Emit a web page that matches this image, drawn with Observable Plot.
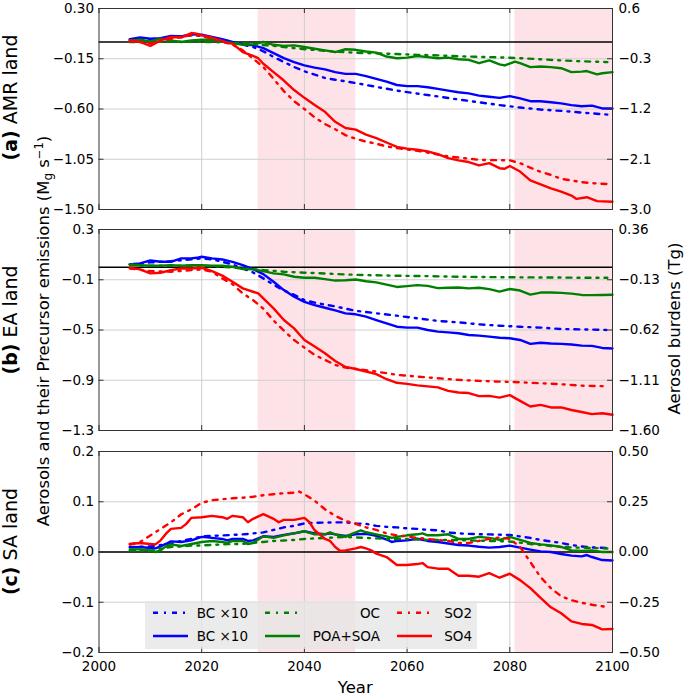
<!DOCTYPE html>
<html><head><meta charset="utf-8">
<script src="https://cdn.jsdelivr.net/npm/d3@7"></script>
<script src="https://cdn.jsdelivr.net/npm/@observablehq/plot@0.6"></script>
<style>
body{margin:0;background:#fff;}
#wrap{position:relative;width:685px;height:696px;font-family:"DejaVu Sans",sans-serif;overflow:hidden;}
#overlay{position:absolute;left:0;top:0;pointer-events:none;}
</style></head><body><div id="wrap"></div>
<script>
// ---------------- DATA ----------------
// Emissions (dash-dot) in left-axis units (Mg s^-1); burdens (solid) in right-axis units (Tg)
const xTickYears = [2000, 2020, 2040, 2060, 2080, 2100];
const shadedPeriods = [[2031, 2050], [2081, 2100]];
const legendLabels = ["BC \u00d710", "BC \u00d710", "OC", "POA+SOA", "SO2", "SO4"];

// (a) AMR land
const aLeftTicks = [0.30, -0.15, -0.60, -1.05, -1.50];
const aRightTicks = [0.6, -0.3, -1.2, -2.1, -3.0];
const aBCem = [[2006,0.021],[2010,0.024],[2014,0.042],[2018,0.060],[2020,0.054],[2024,0.021],[2028,-0.024],[2030,-0.045],[2032,-0.083],[2034,-0.134],[2036,-0.179],[2038,-0.224],[2040,-0.262],[2042,-0.292],[2044,-0.322],[2046,-0.338],[2048,-0.352],[2050,-0.368],[2054,-0.402],[2058,-0.435],[2062,-0.462],[2066,-0.488],[2070,-0.515],[2074,-0.540],[2078,-0.565],[2082,-0.587],[2086,-0.605],[2090,-0.617],[2094,-0.632],[2099,-0.650]];
const aBCbd = [[2006,0.05],[2008,0.08],[2010,0.06],[2012,0.07],[2014,0.11],[2016,0.10],[2018,0.14],[2020,0.13],[2022,0.09],[2024,0.05],[2026,0.00],[2028,-0.04],[2030,-0.06],[2032,-0.11],[2034,-0.20],[2036,-0.29],[2038,-0.36],[2040,-0.42],[2042,-0.46],[2044,-0.49],[2046,-0.54],[2048,-0.57],[2050,-0.57],[2052,-0.61],[2054,-0.66],[2056,-0.71],[2058,-0.77],[2060,-0.79],[2062,-0.79],[2064,-0.81],[2066,-0.84],[2068,-0.87],[2070,-0.90],[2072,-0.92],[2074,-0.96],[2076,-0.98],[2078,-1.00],[2080,-0.97],[2082,-1.01],[2084,-1.06],[2086,-1.06],[2088,-1.08],[2090,-1.10],[2092,-1.13],[2094,-1.15],[2096,-1.14],[2098,-1.19],[2100,-1.19]];
const aOCem = [[2006,0.000],[2010,0.000],[2014,0.004],[2018,0.002],[2022,0.000],[2026,-0.006],[2030,-0.020],[2034,-0.035],[2038,-0.055],[2042,-0.072],[2046,-0.086],[2050,-0.096],[2054,-0.102],[2058,-0.108],[2062,-0.115],[2066,-0.120],[2070,-0.128],[2074,-0.133],[2078,-0.138],[2082,-0.145],[2086,-0.155],[2090,-0.165],[2094,-0.173],[2099,-0.180]];
const aPOAbd = [[2006,0.03],[2008,0.04],[2010,0.01],[2012,0.06],[2014,0.03],[2016,0.00],[2018,0.03],[2020,0.04],[2022,0.04],[2024,0.01],[2026,-0.02],[2028,-0.05],[2030,-0.04],[2032,0.00],[2034,-0.05],[2036,-0.07],[2038,-0.06],[2040,-0.09],[2042,-0.12],[2044,-0.15],[2046,-0.18],[2048,-0.13],[2050,-0.14],[2052,-0.17],[2054,-0.19],[2056,-0.26],[2058,-0.29],[2060,-0.28],[2062,-0.25],[2064,-0.27],[2066,-0.29],[2068,-0.28],[2070,-0.31],[2072,-0.32],[2074,-0.38],[2076,-0.33],[2078,-0.40],[2079,-0.42],[2081,-0.35],[2082,-0.38],[2084,-0.45],[2086,-0.44],[2088,-0.45],[2090,-0.47],[2092,-0.54],[2094,-0.53],[2095,-0.52],[2097,-0.58],[2098,-0.56],[2100,-0.54]];
const aSO2em = [[2006,0.006],[2008,0.000],[2010,-0.012],[2012,0.010],[2014,0.030],[2016,0.045],[2018,0.060],[2020,0.054],[2022,0.030],[2024,0.006],[2026,-0.024],[2028,-0.075],[2030,-0.149],[2032,-0.224],[2034,-0.330],[2036,-0.440],[2038,-0.530],[2040,-0.600],[2042,-0.675],[2044,-0.735],[2046,-0.781],[2048,-0.834],[2050,-0.867],[2052,-0.892],[2054,-0.911],[2056,-0.935],[2058,-0.950],[2060,-0.962],[2062,-0.975],[2064,-0.990],[2066,-1.008],[2068,-1.025],[2070,-1.035],[2072,-1.045],[2074,-1.055],[2076,-1.058],[2078,-1.058],[2080,-1.060],[2082,-1.085],[2084,-1.126],[2086,-1.162],[2088,-1.190],[2090,-1.225],[2092,-1.240],[2094,-1.255],[2096,-1.264],[2099,-1.272]];
const aSO4bd = [[2006,0.03],[2008,0.00],[2010,-0.07],[2012,0.03],[2014,0.09],[2016,0.08],[2018,0.16],[2019,0.15],[2020,0.12],[2022,0.08],[2024,0.02],[2025,-0.02],[2026,-0.03],[2028,-0.18],[2030,-0.25],[2031,-0.29],[2032,-0.39],[2034,-0.54],[2036,-0.69],[2038,-0.86],[2040,-1.00],[2042,-1.13],[2044,-1.25],[2046,-1.43],[2048,-1.54],[2050,-1.57],[2052,-1.66],[2054,-1.72],[2056,-1.80],[2058,-1.88],[2060,-1.91],[2062,-1.93],[2064,-1.96],[2066,-2.01],[2068,-2.08],[2070,-2.12],[2072,-2.15],[2074,-2.21],[2076,-2.17],[2078,-2.26],[2079,-2.27],[2080,-2.22],[2082,-2.32],[2084,-2.48],[2086,-2.55],[2088,-2.62],[2090,-2.68],[2092,-2.75],[2093,-2.81],[2095,-2.78],[2097,-2.85],[2100,-2.86]];

// (b) EA land
const bLeftTicks = [0.3, -0.1, -0.5, -0.9, -1.3];
const bRightTicks = [0.36, -0.13, -0.62, -1.11, -1.60];
const bBCem = [[2006,0.022],[2010,0.038],[2014,0.048],[2018,0.062],[2020,0.070],[2022,0.062],[2024,0.043],[2026,0.022],[2028,-0.010],[2030,-0.042],[2032,-0.089],[2034,-0.140],[2036,-0.185],[2038,-0.220],[2040,-0.262],[2042,-0.282],[2044,-0.298],[2046,-0.312],[2048,-0.330],[2050,-0.347],[2054,-0.367],[2058,-0.386],[2062,-0.407],[2066,-0.428],[2070,-0.439],[2074,-0.455],[2078,-0.466],[2082,-0.474],[2086,-0.481],[2090,-0.492],[2094,-0.495],[2099,-0.500]];
const bBCbd = [[2006,0.019],[2008,0.029],[2010,0.058],[2012,0.045],[2014,0.045],[2016,0.078],[2018,0.078],[2019,0.084],[2020,0.094],[2022,0.078],[2024,0.068],[2026,0.045],[2028,0.013],[2030,-0.026],[2032,-0.075],[2034,-0.149],[2036,-0.231],[2038,-0.296],[2040,-0.345],[2042,-0.377],[2044,-0.403],[2046,-0.428],[2048,-0.458],[2050,-0.467],[2052,-0.490],[2054,-0.523],[2056,-0.555],[2058,-0.588],[2060,-0.597],[2062,-0.597],[2064,-0.620],[2066,-0.636],[2068,-0.643],[2070,-0.652],[2072,-0.669],[2074,-0.675],[2076,-0.685],[2078,-0.695],[2080,-0.701],[2082,-0.717],[2084,-0.755],[2086,-0.745],[2088,-0.752],[2090,-0.755],[2092,-0.762],[2094,-0.772],[2096,-0.775],[2098,-0.795],[2100,-0.800]];
const bOCem = [[2006,0.017],[2010,0.011],[2014,0.011],[2020,0.011],[2024,0.003],[2028,-0.010],[2032,-0.023],[2036,-0.036],[2040,-0.044],[2044,-0.050],[2048,-0.058],[2052,-0.063],[2058,-0.068],[2064,-0.071],[2070,-0.076],[2076,-0.079],[2082,-0.081],[2088,-0.082],[2094,-0.084],[2099,-0.084]];
const bPOAbd = [[2006,0.019],[2008,0.013],[2010,0.006],[2012,0.006],[2014,0.013],[2016,0.006],[2018,0.013],[2020,0.013],[2022,0.006],[2024,0.006],[2026,-0.003],[2028,-0.026],[2030,-0.029],[2032,-0.046],[2034,-0.068],[2036,-0.078],[2038,-0.101],[2040,-0.111],[2042,-0.111],[2044,-0.124],[2046,-0.138],[2048,-0.135],[2050,-0.128],[2052,-0.145],[2054,-0.156],[2056,-0.178],[2058,-0.200],[2060,-0.192],[2062,-0.182],[2064,-0.190],[2066,-0.212],[2068,-0.208],[2070,-0.205],[2072,-0.214],[2074,-0.208],[2076,-0.221],[2078,-0.245],[2080,-0.220],[2082,-0.235],[2084,-0.275],[2086,-0.255],[2088,-0.255],[2090,-0.258],[2092,-0.265],[2094,-0.278],[2096,-0.280],[2098,-0.278],[2100,-0.276]];
const bSO2em = [[2006,-0.010],[2010,-0.031],[2014,-0.036],[2018,-0.023],[2020,-0.018],[2022,-0.036],[2024,-0.089],[2026,-0.135],[2028,-0.209],[2030,-0.262],[2032,-0.330],[2034,-0.425],[2036,-0.505],[2038,-0.580],[2040,-0.640],[2042,-0.699],[2044,-0.738],[2046,-0.778],[2048,-0.799],[2050,-0.810],[2054,-0.831],[2058,-0.857],[2062,-0.871],[2066,-0.884],[2070,-0.897],[2074,-0.905],[2078,-0.911],[2082,-0.916],[2086,-0.924],[2090,-0.932],[2094,-0.943],[2099,-0.948]];
const bSO4bd = [[2006,-0.013],[2008,-0.029],[2010,-0.068],[2012,-0.062],[2014,-0.036],[2016,-0.020],[2018,-0.020],[2020,-0.013],[2022,-0.046],[2024,-0.090],[2026,-0.150],[2028,-0.214],[2030,-0.247],[2031,-0.263],[2032,-0.312],[2034,-0.409],[2036,-0.523],[2038,-0.604],[2039,-0.662],[2040,-0.717],[2042,-0.782],[2044,-0.847],[2046,-0.922],[2048,-0.980],[2050,-1.000],[2052,-1.025],[2054,-1.050],[2056,-1.100],[2058,-1.135],[2060,-1.145],[2062,-1.160],[2064,-1.170],[2066,-1.180],[2068,-1.214],[2070,-1.230],[2072,-1.235],[2074,-1.265],[2076,-1.262],[2078,-1.279],[2080,-1.255],[2082,-1.311],[2084,-1.366],[2086,-1.350],[2088,-1.375],[2090,-1.375],[2092,-1.400],[2094,-1.420],[2096,-1.440],[2098,-1.432],[2100,-1.447]];

// (c) SA land
const cLeftTicks = [0.2, 0.1, 0.0, -0.1, -0.2];
const cRightTicks = [0.50, 0.25, 0.00, -0.25, -0.50];
const cBCem = [[2006,0.010],[2010,0.011],[2012,0.014],[2014,0.016],[2016,0.022],[2018,0.026],[2020,0.031],[2022,0.032],[2024,0.033],[2026,0.034],[2028,0.035],[2030,0.037],[2032,0.039],[2034,0.044],[2036,0.049],[2038,0.052],[2040,0.057],[2042,0.058],[2046,0.059],[2048,0.059],[2050,0.057],[2052,0.056],[2054,0.052],[2056,0.050],[2058,0.049],[2060,0.047],[2062,0.046],[2064,0.044],[2066,0.043],[2068,0.039],[2070,0.037],[2072,0.036],[2076,0.035],[2080,0.034],[2082,0.031],[2084,0.028],[2086,0.024],[2088,0.021],[2090,0.018],[2092,0.014],[2094,0.011],[2096,0.009],[2099,0.008]];
const cBCbd = [[2006,0.023],[2008,0.025],[2010,0.020],[2011,0.018],[2012,0.028],[2013,0.040],[2014,0.053],[2016,0.050],[2018,0.058],[2020,0.075],[2022,0.070],[2024,0.065],[2025,0.058],[2026,0.065],[2028,0.065],[2029,0.055],[2030,0.058],[2032,0.078],[2034,0.075],[2036,0.085],[2038,0.093],[2040,0.103],[2042,0.093],[2044,0.088],[2045,0.093],[2046,0.088],[2048,0.080],[2050,0.088],[2052,0.090],[2054,0.080],[2056,0.062],[2057,0.050],[2058,0.055],[2060,0.058],[2062,0.066],[2064,0.055],[2066,0.050],[2068,0.042],[2070,0.035],[2072,0.032],[2074,0.026],[2076,0.022],[2078,0.025],[2080,0.032],[2082,0.022],[2084,0.012],[2086,0.003],[2088,0.000],[2090,-0.010],[2092,-0.018],[2094,-0.022],[2095,-0.015],[2096,-0.025],[2098,-0.040],[2100,-0.042]];
const cOCem = [[2006,0.003],[2010,0.002],[2012,0.007],[2014,0.010],[2016,0.011],[2018,0.013],[2020,0.013],[2022,0.014],[2024,0.015],[2026,0.016],[2028,0.016],[2030,0.018],[2032,0.020],[2034,0.022],[2036,0.023],[2038,0.024],[2040,0.026],[2044,0.028],[2048,0.030],[2052,0.028],[2056,0.026],[2060,0.026],[2064,0.024],[2068,0.024],[2072,0.023],[2076,0.022],[2080,0.021],[2084,0.016],[2088,0.012],[2092,0.009],[2096,0.008],[2099,0.007]];
const cPOAbd = [[2006,0.013],[2008,0.013],[2010,0.008],[2011,0.000],[2012,0.008],[2013,0.028],[2014,0.038],[2016,0.030],[2018,0.040],[2020,0.050],[2022,0.055],[2024,0.050],[2025,0.045],[2026,0.055],[2028,0.055],[2029,0.040],[2030,0.045],[2032,0.078],[2034,0.070],[2036,0.083],[2038,0.093],[2040,0.103],[2042,0.088],[2044,0.088],[2045,0.098],[2046,0.088],[2048,0.075],[2049,0.088],[2050,0.098],[2051,0.108],[2052,0.098],[2054,0.088],[2056,0.078],[2057,0.070],[2058,0.075],[2060,0.083],[2062,0.088],[2063,0.093],[2064,0.083],[2066,0.083],[2068,0.088],[2070,0.065],[2072,0.065],[2074,0.075],[2076,0.070],[2078,0.060],[2080,0.075],[2082,0.060],[2084,0.045],[2086,0.038],[2088,0.033],[2090,0.025],[2092,0.008],[2094,0.005],[2096,0.008],[2098,0.000],[2100,0.000]];
const cSO2em = [[2006,0.015],[2008,0.020],[2010,0.033],[2012,0.046],[2014,0.059],[2016,0.075],[2018,0.085],[2020,0.098],[2022,0.103],[2024,0.105],[2026,0.107],[2028,0.108],[2030,0.110],[2032,0.113],[2034,0.115],[2036,0.117],[2038,0.118],[2039,0.120],[2040,0.115],[2042,0.102],[2044,0.085],[2046,0.072],[2048,0.062],[2050,0.056],[2052,0.049],[2054,0.044],[2056,0.037],[2058,0.033],[2060,0.031],[2062,0.028],[2064,0.026],[2066,0.024],[2068,0.022],[2070,0.018],[2072,0.018],[2074,0.022],[2076,0.026],[2078,0.029],[2080,0.026],[2082,0.010],[2083,-0.005],[2084,-0.020],[2086,-0.050],[2088,-0.072],[2090,-0.088],[2092,-0.096],[2094,-0.101],[2096,-0.105],[2098,-0.108],[2099,-0.110]];
const cSO4bd = [[2006,0.040],[2008,0.045],[2010,0.040],[2011,0.038],[2012,0.058],[2013,0.090],[2014,0.115],[2016,0.120],[2017,0.140],[2018,0.170],[2020,0.173],[2022,0.180],[2024,0.173],[2025,0.165],[2026,0.180],[2028,0.173],[2029,0.148],[2030,0.165],[2032,0.188],[2034,0.165],[2035,0.148],[2036,0.160],[2038,0.160],[2040,0.170],[2041,0.148],[2042,0.108],[2044,0.065],[2045,0.055],[2046,0.025],[2047,0.005],[2048,0.008],[2050,0.018],[2051,0.025],[2052,0.018],[2053,0.008],[2054,-0.008],[2056,-0.025],[2058,-0.065],[2060,-0.065],[2062,-0.060],[2063,-0.055],[2064,-0.075],[2066,-0.083],[2068,-0.083],[2070,-0.118],[2072,-0.118],[2074,-0.123],[2076,-0.105],[2078,-0.128],[2080,-0.108],[2082,-0.140],[2084,-0.180],[2086,-0.228],[2088,-0.275],[2090,-0.305],[2092,-0.345],[2094,-0.358],[2096,-0.363],[2098,-0.385],[2100,-0.383]];

// ---------------- STYLE ----------------
const FONT = '"DejaVu Sans", sans-serif';
const BLUE = "#0000ff", GREEN = "#008000", RED = "#ff0000";
const DASH = "5,6,2,6";
const LW = 2.4;
const GRID = "#cfcfcf";
const FRAME = "#333333";
const PINK = "#fde3e8";

function fmt(v, digits) {
  const s = Math.abs(v).toFixed(digits);
  return (v < -1e-9 ? "\u2212" : "") + s;
}

const wrap = document.getElementById("wrap");

function panel(cfg) {
  const l0 = cfg.lticks[cfg.lticks.length - 1], l1 = cfg.lticks[0];
  const r0 = cfg.rticks[cfg.rticks.length - 1], r1 = cfg.rticks[0];
  const toL = r => l0 + (r - r0) * (l1 - l0) / (r1 - r0);
  const plotH = cfg.height - cfg.mt - cfg.mb;
  const dyTick = (l1 - l0) * 5 / plotH;
  const dxTick = 100 * 5 / (612 - 98.5);
  const rpos = cfg.rticks.map(toL);
  const series = [
    {data: cfg.bcEm, y: d => d[1], stroke: BLUE, dash: DASH},
    {data: cfg.bcBd, y: d => toL(d[1]), stroke: BLUE},
    {data: cfg.ocEm, y: d => d[1], stroke: GREEN, dash: DASH},
    {data: cfg.poaBd, y: d => toL(d[1]), stroke: GREEN},
    {data: cfg.so2Em, y: d => d[1], stroke: RED, dash: DASH},
    {data: cfg.so4Bd, y: d => toL(d[1]), stroke: RED}
  ];
  const marks = [
    Plot.rect(shadedPeriods, {x1: d => d[0], x2: d => d[1], y1: () => l0, y2: () => l1, fill: PINK}),
    Plot.ruleX(xTickYears.slice(1, -1), {stroke: GRID, strokeWidth: 1}),
    Plot.ruleY(cfg.lticks.slice(1, -1), {stroke: GRID, strokeWidth: 1}),
    Plot.ruleY([0], {stroke: "black", strokeWidth: 1.6}),
    ...series.map(s => Plot.line(s.data, {x: d => d[0], y: s.y, stroke: s.stroke, strokeWidth: LW, strokeDasharray: s.dash, strokeLinejoin: "round"})),
    Plot.frame({stroke: FRAME, strokeWidth: 1}),
    Plot.ruleY(cfg.lticks, {x1: () => 2000, x2: () => 2000 + dxTick, stroke: FRAME}),
    Plot.ruleY(rpos, {x1: () => 2100 - dxTick, x2: () => 2100, stroke: FRAME}),
    Plot.ruleX(xTickYears, {y1: () => l1, y2: () => l1 - dyTick, stroke: FRAME}),
    Plot.ruleX(xTickYears, {y1: () => l0, y2: () => l0 + dyTick, stroke: FRAME}),
    Plot.axisY({ticks: cfg.lticks, anchor: "left", tickSize: 0, tickPadding: 5, label: null,
      tickFormat: d => fmt(d, cfg.ldig)}),
    Plot.axisY({ticks: rpos, anchor: "right", tickSize: 0, tickPadding: 6, label: null,
      tickFormat: d => fmt(cfg.rticks[rpos.indexOf(d)], cfg.rdig)})
  ];
  if (cfg.xaxis) {
    marks.push(Plot.axisX({ticks: xTickYears, anchor: "bottom", tickSize: 0, tickPadding: 9, label: null, tickFormat: d => String(d)}));
  }
  const svg = Plot.plot({
    width: 685, height: cfg.height,
    marginLeft: 98.5, marginRight: 73, marginTop: cfg.mt, marginBottom: cfg.mb,
    x: cfg.xaxis ? {domain: [2000, 2100]} : {domain: [2000, 2100], axis: null},
    y: {domain: [l0, l1]},
    style: {fontFamily: FONT, fontSize: "13.5px", color: "#000", background: "transparent", overflow: "visible"},
    marks
  });
  svg.style.position = "absolute";
  svg.style.left = "0px";
  svg.style.top = cfg.top + "px";
  wrap.appendChild(svg);
}

panel({top: 0, height: 220, mt: 8, mb: 11, lticks: aLeftTicks, ldig: 2, rticks: aRightTicks, rdig: 1,
  bcEm: aBCem, bcBd: aBCbd, ocEm: aOCem, poaBd: aPOAbd, so2Em: aSO2em, so4Bd: aSO4bd, xaxis: false});
panel({top: 220, height: 220, mt: 9, mb: 10, lticks: bLeftTicks, ldig: 1, rticks: bRightTicks, rdig: 2,
  bcEm: bBCem, bcBd: bBCbd, ocEm: bOCem, poaBd: bPOAbd, so2Em: bSO2em, so4Bd: bSO4bd, xaxis: false});
panel({top: 440, height: 256, mt: 11, mb: 44, lticks: cLeftTicks, ldig: 1, rticks: cRightTicks, rdig: 2,
  bcEm: cBCem, bcBd: cBCbd, ocEm: cOCem, poaBd: cPOAbd, so2Em: cSO2em, so4Bd: cSO4bd, xaxis: true});

// ---------------- OVERLAY: titles + legend ----------------
const ov = d3.select(wrap).append("svg").attr("id", "overlay")
  .attr("width", 685).attr("height", 696)
  .style("font-family", FONT);

const panelLabels = [
  {tag: "(a)", name: " AMR land", cy: 97.5},
  {tag: "(b)", name: " EA land", cy: 320},
  {tag: "(c)", name: " SA land", cy: 541.5}
];
panelLabels.forEach(p => {
  const t = ov.append("text").attr("transform", `translate(17,${p.cy}) rotate(-90)`)
    .attr("text-anchor", "middle").attr("font-size", 19).attr("fill", "#000");
  t.append("tspan").attr("font-weight", "bold").text(p.tag);
  t.append("tspan").text(p.name);
});

const lt = ov.append("text").attr("transform", "translate(49,331) rotate(-90)")
  .attr("text-anchor", "middle").attr("font-size", 16.5).attr("fill", "#000");
lt.append("tspan").text("Aerosols and their Precursor emissions (M");
lt.append("tspan").attr("dy", 3).attr("font-size", 12).text("g");
lt.append("tspan").attr("dy", -3).text(" s");
lt.append("tspan").attr("dy", -6).attr("font-size", 11.5).text("\u22121");
lt.append("tspan").attr("dy", 6).text(")");

ov.append("text").attr("transform", "translate(680,328.5) rotate(-90)")
  .attr("text-anchor", "middle").attr("font-size", 16.5).attr("fill", "#000")
  .text("Aerosol burdens (Tg)");

ov.append("text").attr("x", 355.25).attr("y", 693).attr("text-anchor", "middle")
  .attr("font-size", 16.5).attr("fill", "#000").text("Year");

// legend
ov.append("rect").attr("x", 145).attr("y", 601).attr("width", 332).attr("height", 48)
  .attr("fill", "#e6e6e6").attr("fill-opacity", 0.78);
const legendColors = [BLUE, BLUE, GREEN, GREEN, RED, RED];
const legendDash = [DASH, null, DASH, null, DASH, null];
const colLineX = [153, 265, 397];
const colTextEnd = [248, 380, 472];
const rowY = [612.7, 636];
legendLabels.forEach((lab, i) => {
  const col = Math.floor(i / 2), row = i % 2;
  const ln = ov.append("line").attr("x1", colLineX[col]).attr("x2", colLineX[col] + 35)
    .attr("y1", rowY[row]).attr("y2", rowY[row])
    .attr("stroke", legendColors[i]).attr("stroke-width", LW);
  if (legendDash[i]) ln.attr("stroke-dasharray", legendDash[i]);
  ov.append("text").attr("x", colTextEnd[col]).attr("y", rowY[row] + 5)
    .attr("text-anchor", "end").attr("font-size", 13.5).attr("fill", "#000").text(lab);
});
</script></body></html>
